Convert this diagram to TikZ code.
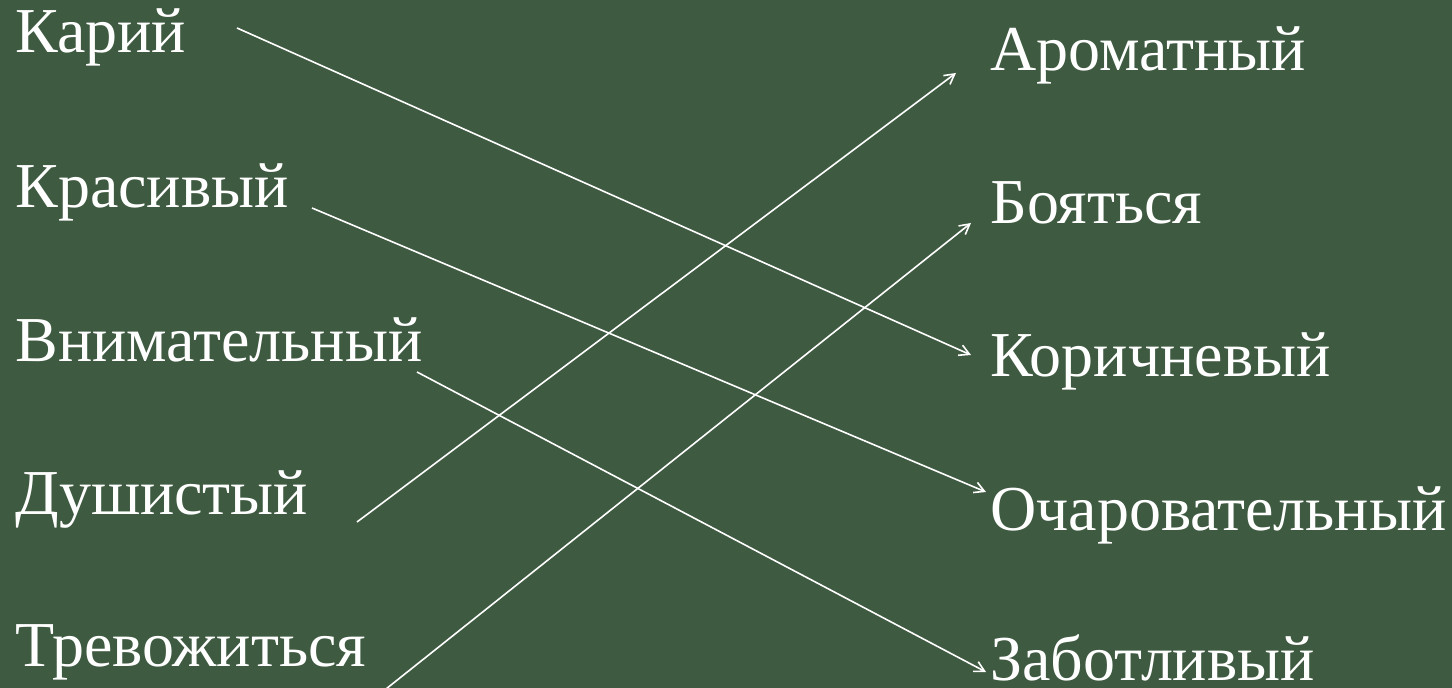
\documentclass[tikz,border=0pt]{standalone}
\usepackage{fontspec}
\setmainfont{Liberation Serif}
\usetikzlibrary{arrows.meta}
\definecolor{bg}{HTML}{3E5A40}
\begin{document}
\begin{tikzpicture}[x=0.5pt,y=-0.5pt,
  word/.style={anchor=base west,inner sep=0pt,text=white,font=\fontsize{32}{38}\selectfont},
  link/.style={draw=white,line width=0.8pt,-{Straight Barb[length=5pt,width=5.5pt]}}]
\fill[bg] (0,0) rectangle (1452,688);
\useasboundingbox (0,0) rectangle (1452,688);
% left words
\node[word] (l1) at (15,53) {Карий};
\node[word] (l2) at (15,208) {Красивый};
\node[word] (l3) at (15,362) {Внимательный};
\node[word] (l4) at (15,515) {Душистый};
\node[word] (l5) at (15,667) {Тревожиться};
% right words
\node[word] (r1) at (990,71) {Ароматный};
\node[word] (r2) at (990,224) {Бояться};
\node[word] (r3) at (990,377) {Коричневый};
\node[word] (r4) at (990,531) {Очаровательный};
\node[word] (r5) at (990,681) {Заботливый};
% connector ends
\coordinate (s1) at (237,28);
\coordinate (s2) at (312,208);
\coordinate (s3) at (417,372);
\coordinate (s4) at (357,522);
\coordinate (s5) at (386,689);
\coordinate (t1) at (956,73);
\coordinate (t2) at (971,223);
\coordinate (t3) at (971,355);
\coordinate (t4) at (986,492);
\coordinate (t5) at (986,672);
\draw[link] (s1) -- (t3);
\draw[link] (s2) -- (t4);
\draw[link] (s3) -- (t5);
\draw[link] (s4) -- (t1);
\draw[link] (s5) -- (t2);
\end{tikzpicture}
\end{document}
